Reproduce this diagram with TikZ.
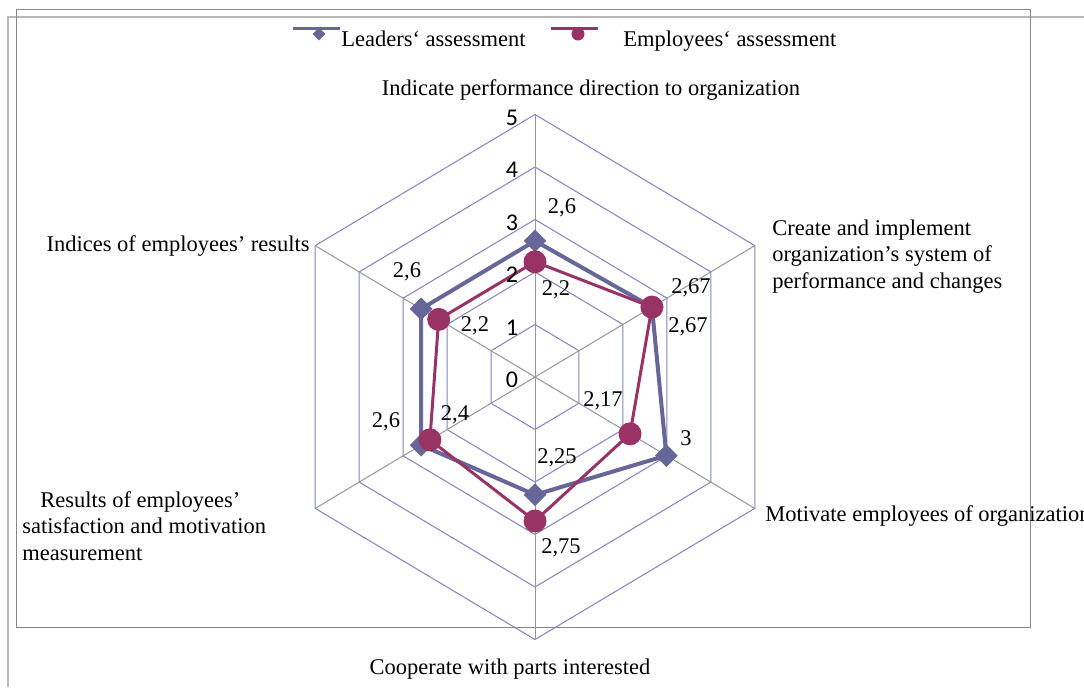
\documentclass[tikz,border=0pt]{standalone}
\usepackage{fontspec}
\setmainfont{Liberation Serif}
\newfontfamily\tickfont{Carlito}
\usetikzlibrary{shapes.geometric}

\definecolor{leadcol}{RGB}{102,102,153}
\definecolor{empcol}{RGB}{153,51,102}
\definecolor{hexcol}{RGB}{130,130,190}
\definecolor{spokecol}{RGB}{150,150,150}
\definecolor{framecol}{RGB}{135,135,135}
\definecolor{framelight}{RGB}{185,185,185}

\tikzset{
  every node/.style={inner sep=0pt, font=\fontsize{11.25}{13.25}\selectfont},
  gridhex/.style={draw=hexcol, line width=0.5pt},
  spoke/.style={draw=spokecol, line width=0.5pt},
  leadline/.style={draw=leadcol, line width=2pt, line join=round},
  empline/.style={draw=empcol, line width=1.5pt, line join=round},
  leadmark/.style={diamond, fill=leadcol, minimum size=11.5pt},
  empmark/.style={circle, fill=empcol, minimum size=11.5pt},
  ticklabel/.style={font=\tickfont\fontsize{12}{14}\selectfont},
  axislabel/.style={align=left},
}

\begin{document}
\begin{tikzpicture}[x=0.5pt,y=-0.5pt]
  \useasboundingbox (0,0) rectangle (1084,687);

  % frames
  \draw[framelight, line width=0.8pt] (8,687) -- (8,17) -- (1084,17);
  \draw[framecol, line width=0.5pt] (16,9) rectangle (1030,627);

  % radar grid and series
  \begin{scope}[shift={(535,377)}, xscale=0.9677*52.5, yscale=52.5]
    \coordinate (c) at (0,0);
    \foreach \r in {1,...,5}
      \draw[gridhex] (-90:\r) -- (-30:\r) -- (30:\r) -- (90:\r) -- (150:\r) -- (210:\r) -- cycle;
    \foreach \a [count=\i] in {-90,-30,30,90,150,210} {
      \coordinate (ax\i) at (\a:5);
      \draw[spoke] (c) -- (ax\i);
    }

    % Leaders
    \foreach \a/\v [count=\i] in {-90/2.6,-30/2.67,30/3,90/2.25,150/2.6,210/2.6}
      \coordinate (L\i) at (\a:\v);
    \draw[leadline] (L1) -- (L2) -- (L3) -- (L4) -- (L5) -- (L6) -- cycle;
    \foreach \i in {1,...,6}
      \node[leadmark] (LM\i) at (L\i) {};

    % Employees
    \foreach \a/\v [count=\i] in {-90/2.2,-30/2.67,30/2.17,90/2.75,150/2.4,210/2.2}
      \coordinate (E\i) at (\a:\v);
    \draw[empline] (E1) -- (E2) -- (E3) -- (E4) -- (E5) -- (E6) -- cycle;
    \foreach \i in {1,...,6}
      \node[empmark] (EM\i) at (E\i) {};
  \end{scope}

  % scale labels
  \foreach \r in {0,...,5}
    \node[ticklabel] (tick\r) at (512,380-52.5*\r) {\r};

  % value labels
  \node (vl1) at (562,208) {2,6};
  \node (vl2) at (691,288) {2,67};
  \node (vl3) at (686,438) {3};
  \node (vl4) at (557,458) {2,25};
  \node (vl5) at (386,422) {2,6};
  \node (vl6) at (407,272) {2,6};
  \node (ve1) at (556,290) {2,2};
  \node (ve2) at (688,327) {2,67};
  \node (ve3) at (603,401) {2,17};
  \node (ve4) at (561,548) {2,75};
  \node (ve5) at (455,415) {2,4};
  \node (ve6) at (475,326) {2,2};

  % axis labels
  \node[anchor=base] (lab1) at (591,95) {Indicate performance direction to organization};
  \node[axislabel, anchor=north west] (lab2) at (772,219)
    {Create and implement\\organization’s system of\\performance and changes};
  \node[anchor=base west] (lab3) at (765,521) {Motivate employees of organization};
  \node[anchor=base] (lab4) at (510,674) {Cooperate with parts interested};
  \node[axislabel, anchor=north west] (lab5) at (22,491)
    {\hspace*{9pt}Results of employees’\\satisfaction and motivation\\measurement};
  \node[anchor=base east] (lab6) at (310,251) {Indices of employees’ results};

  % legend
  \coordinate (lgL1) at (293,28);
  \coordinate (lgL2) at (340,28);
  \draw[leadline, line width=1.5pt] (lgL1) -- (lgL2);
  \node[leadmark, minimum size=6.5pt] (lgLM) at (319,34) {};
  \node[anchor=base west] (lgLT) at (341,46) {Leaders‘ assessment};
  \coordinate (lgE1) at (551,28);
  \coordinate (lgE2) at (598,28);
  \draw[empline] (lgE1) -- (lgE2);
  \node[empmark, minimum size=6.5pt] (lgEM) at (578,34) {};
  \node[anchor=base west] (lgET) at (623,46) {Employees‘ assessment};
\end{tikzpicture}
\end{document}
